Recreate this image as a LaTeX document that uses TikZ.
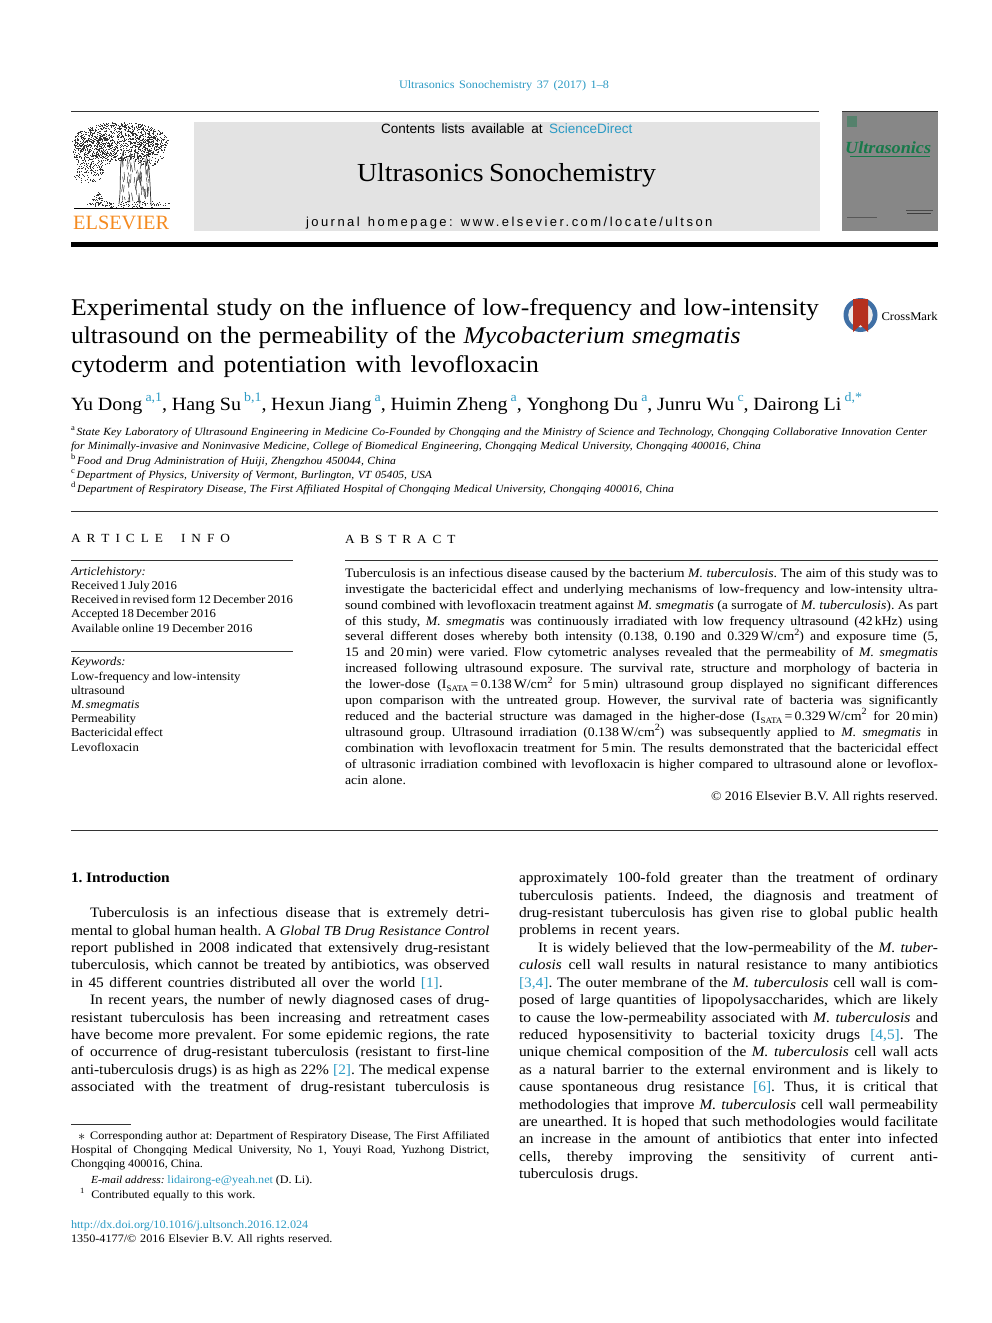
\documentclass[tikz,border=0pt]{standalone}
\usepackage{fontspec}
\setmainfont{Liberation Serif}[FakeStretch=1.07]
\newfontfamily\plainser{Liberation Serif}
\newfontfamily\heros{Liberation Sans}
\definecolor{linkc}{HTML}{2B9AC4}
\definecolor{boxg}{HTML}{E3E3E3}
\definecolor{cover}{HTML}{878787}
\definecolor{coverg}{HTML}{17794A}
\definecolor{orangee}{HTML}{F58A1F}
\definecolor{ink}{HTML}{333333}
\definecolor{cmblue}{HTML}{3F6FA5}
\definecolor{cmred}{HTML}{B5301F}
\newcommand\fbody{\fontsize{14.4}{17}\selectfont}
\newcommand\fabs{\fontsize{12.9}{15}\selectfont}
\newcommand\finfo{\fontsize{11.9}{14}\selectfont}
\newcommand\fsmall{\fontsize{10.9}{14}\selectfont}
\newcommand\ftitle{\fontsize{24}{28}\selectfont}
\newcommand\fauth{\fontsize{18.7}{23}\selectfont}
\newcommand\sups[1]{\raisebox{.42em}{\fontsize{9.5}{10}\selectfont #1}}
\newcommand\aff[1]{\raisebox{.42em}{\fontsize{8}{9}\selectfont\upshape #1}}
\newcommand\subs[1]{\raisebox{-.22em}{\fontsize{8.5}{9}\selectfont #1}}
\newcommand\authsup[1]{\,\raisebox{.45em}{\textcolor{linkc}{\fontsize{13}{14}\selectfont #1}}}
\newcommand\cit[1]{\textcolor{linkc}{#1}}
\newcount\tlcnt
% x, baseline y, width, text
\newcommand\TL[4]{\global\advance\tlcnt by 1
  \node[name=t\the\tlcnt,anchor=base west,inner sep=0pt,outer sep=0pt] at (#1,#2)
    {\hbox to #3pt{\frenchspacing\spaceskip=.17em plus 1fil minus .12em\relax #4}};}
\newcommand\speck[5]{\foreach \i in {1,...,#5}{%
  \pgfmathsetmacro\ang{360*rnd}\pgfmathsetmacro\rr{sqrt(rnd)}%
  \pgfmathsetmacro\px{#1+#3*\rr*cos(\ang)}\pgfmathsetmacro\py{#2+#4*\rr*sin(\ang)}%
  \fill[ink] (\px,\py) rectangle ++(0.75,0.75);}}
\begin{document}
\begin{tikzpicture}[x=1pt,y=-1pt,line cap=butt,
  rulet/.style={draw=ink,line width=0.8pt}]
\useasboundingbox (0,0) rectangle (992,1323);
\fill[white] (0,0) rectangle (992,1323);

% ---------- header
\begin{scope}[font=\fontsize{11.4}{13}\selectfont]
\TL{399}{88}{210}{\textcolor{linkc}{Ultrasonics Sonochemistry 37 (2017) 1--8}}
\end{scope}
\draw[rulet] (71,111.3) -- (819,111.3);
\fill[boxg] (194,122) rectangle (819.5,230.5);
\begin{scope}[font=\heros\fontsize{13.5}{15}\selectfont]
\TL{381}{133}{251.5}{Contents lists available at \textcolor{linkc}{ScienceDirect}}
\end{scope}
\begin{scope}[font=\fontsize{26}{30}\selectfont]
\TL{357}{181.5}{299}{Ultrasonics Sonochemistry}
\end{scope}
\begin{scope}[font=\heros\fontsize{13}{15}\selectfont\addfontfeature{LetterSpace=19}]
\TL{306}{226}{406.5}{journal homepage: www.elsevier.com/locate/ultson}
\end{scope}
\fill[black] (71,242) rectangle (938,247);

% ---------- Elsevier tree (drawn as stipple)
\begin{scope}
\pgfmathsetseed{4711}
\speck{120}{141}{48}{19}{1150}
\speck{94}{151}{22}{17}{300}
\speck{148}{150}{17}{16}{180}
\speck{88}{172}{16}{11}{110}
\speck{97}{198}{6}{6}{45}
\speck{128}{204}{42}{3.5}{120}
\foreach \i in {1,...,70}{%
  \pgfmathsetmacro\px{120+rnd*30}\pgfmathsetmacro\py{150+rnd*52}%
  \pgfmathsetmacro\dx{(rnd-.5)*3}\pgfmathsetmacro\dy{3+rnd*7}%
  \draw[ink,line width=.5pt] (\px,\py) -- ++(\dx,\dy);}
\draw[ink,line width=.7pt] (119,204) .. controls (122,180) and (118,165) .. (124,150);
\draw[ink,line width=.7pt] (151,205) .. controls (150,185) and (150,170) .. (146,155);
\draw[black,line width=1pt] (74,208) -- (170,208);
\end{scope}
\node[name=elsevier,anchor=base west,inner sep=0pt,text=orangee,font=\plainser\fontsize{20.3}{22}\selectfont] at (73,229) {ELSEVIER};

% ---------- cover
\fill[cover] (842,111) rectangle (938,230.5);
\draw[ink,line width=.5pt] (842,111) -- (938,111);
\fill[coverg!45!cover] (847,116) rectangle (857,127);
\node[name=covertitle,anchor=base west,inner sep=0pt,text=coverg,font=\bfseries\itshape\fontsize{17}{18}\selectfont] at (845,153) {\hbox to 88pt{\spaceskip0pt Ultrasonics\hss}};
\draw[coverg,line width=.8pt] (850,156.5) -- (930,156.5);
\fill[black!45!cover] (906,210) rectangle (933,210.8);
\fill[black!55!cover] (907,213) rectangle (931,214.2);
\fill[black!35!cover] (847,216.5) rectangle (877,217.3);

% ---------- CrossMark
\fill[cmblue] (860.5,315) circle (17);
\fill[white!92!black] (860.5,315) circle (12.3);
\fill[cmred] (853,299) -- (868,299) -- (868,332) -- (860.5,325) -- (853,332) -- cycle;
\begin{scope}[font=\fontsize{11.8}{15}\selectfont]
\TL{881.5}{320.5}{55.5}{CrossMark\hss}
\end{scope}

% ---------- title
\begin{scope}[font=\ftitle]
\TL{71}{315}{748}{Experimental study on the influence of low-frequency and low-intensity}
\TL{71}{343.5}{669.5}{ultrasound on the permeability of the \textit{Mycobacterium smegmatis}}
\TL{71}{372}{468}{cytoderm and potentiation with levofloxacin}
\end{scope}

% ---------- authors
\begin{scope}[font=\fauth]
\TL{71}{410}{791}{Yu Dong\authsup{a,1}, Hang Su\authsup{b,1}, Hexun Jiang\authsup{a}, Huimin Zheng\authsup{a}, Yonghong Du\authsup{a}, Junru Wu\authsup{c}, Dairong Li\authsup{d,*}}
\end{scope}

% ---------- affiliations
\begin{scope}[font=\fsmall\itshape]
\TL{71}{435}{856}{\aff{a}\,State Key Laboratory of Ultrasound Engineering in Medicine Co-Founded by Chongqing and the Ministry of Science and Technology, Chongqing Collaborative Innovation Center}
\TL{71}{449}{690}{for Minimally-invasive and Noninvasive Medicine, College of Biomedical Engineering, Chongqing Medical University, Chongqing 400016, China}
\TL{71}{464}{325}{\aff{b}\,Food and Drug Administration of Huiji, Zhengzhou 450044, China}
\TL{71}{478}{361}{\aff{c}\,Department of Physics, University of Vermont, Burlington, VT 05405, USA}
\TL{71}{492}{603}{\aff{d}\,Department of Respiratory Disease, The First Affiliated Hospital of Chongqing Medical University, Chongqing 400016, China}
\end{scope}
\draw[rulet] (71,511) -- (938,511);

% ---------- article info
\begin{scope}[font=\fontsize{12.4}{14}\selectfont]
\TL{71}{542.5}{159}{A R T I C L E\ \ \ I N F O}
\TL{345}{543.3}{110.5}{A B S T R A C T}
\end{scope}
\draw[rulet] (71,560) -- (293,560);
\draw[rulet] (345,560) -- (938,560);
\draw[rulet] (71,651) -- (293,651);
\begin{scope}[font=\finfo]
\TL{71}{575}{73}{\textit{Article history:}}
\TL{71}{589.2}{106}{Received 1 July 2016}
\TL{71}{603.5}{222}{Received in revised form 12 December 2016}
\TL{71}{617.7}{145}{Accepted 18 December 2016}
\TL{71}{632}{181.5}{Available online 19 December 2016}
\TL{71}{665.7}{51}{\textit{Keywords:}}
\TL{71}{680}{169.5}{Low-frequency and low-intensity}
\TL{71}{694.2}{55}{ultrasound}
\TL{71}{708.4}{68.5}{\textit{M. smegmatis}}
\TL{71}{722.6}{63.5}{Permeability}
\TL{71}{736.8}{92}{Bactericidal effect}
\TL{71}{751}{62.5}{Levofloxacin}
\end{scope}
% ---------- abstract
\begin{scope}[font=\fabs]
\TL{345}{577.3}{593}{Tuberculosis is an infectious disease caused by the bacterium \textit{M. tuberculosis}. The aim of this study was to}
\TL{345}{593.2}{593}{investigate the bactericidal effect and underlying mechanisms of low-frequency and low-intensity ultra-}
\TL{345}{609.1}{593}{sound combined with levofloxacin treatment against \textit{M. smegmatis} (a surrogate of \textit{M. tuberculosis}). As part}
\TL{345}{625}{593}{of this study, \textit{M. smegmatis} was continuously irradiated with low frequency ultrasound (42\,kHz) using}
\TL{345}{640.9}{593}{several different doses whereby both intensity (0.138, 0.190 and 0.329\,W/cm\sups{2}) and exposure time (5,}
\TL{345}{656.8}{593}{15 and 20\,min) were varied. Flow cytometric analyses revealed that the permeability of \textit{M. smegmatis}}
\TL{345}{672.7}{593}{increased following ultrasound exposure. The survival rate, structure and morphology of bacteria in}
\TL{345}{688.6}{593}{the lower-dose (I\subs{SATA}\,=\,0.138\,W/cm\sups{2} for 5\,min) ultrasound group displayed no significant differences}
\TL{345}{704.5}{593}{upon comparison with the untreated group. However, the survival rate of bacteria was significantly}
\TL{345}{720.4}{593}{reduced and the bacterial structure was damaged in the higher-dose (I\subs{SATA}\,=\,0.329\,W/cm\sups{2} for 20\,min)}
\TL{345}{736.3}{593}{ultrasound group. Ultrasound irradiation (0.138\,W/cm\sups{2}) was subsequently applied to \textit{M. smegmatis} in}
\TL{345}{752.2}{593}{combination with levofloxacin treatment for 5\,min. The results demonstrated that the bactericidal effect}
\TL{345}{768.1}{593}{of ultrasonic irradiation combined with levofloxacin is higher compared to ultrasound alone or levoflox-}
\TL{345}{784}{61}{acin alone.}
\TL{710}{800}{228}{\hfil\copyright\ 2016 Elsevier B.V. All rights reserved.}
\end{scope}
\draw[rulet] (71,830) -- (938,830);

% ---------- body, left
\begin{scope}[font=\fbody]
\TL{71}{882}{100}{\textbf{1. Introduction}\hss}
\TL{90}{917.3}{399.5}{Tuberculosis is an infectious disease that is extremely detri-}
\TL{71}{935}{418.5}{mental to global human health. A {\fontsize{13.6}{17}\selectfont\textit{Global TB Drug Resistance Control}}}
\TL{71}{952.2}{418.5}{report published in 2008 indicated that extensively drug-resistant}
\TL{71}{969.7}{418.5}{tuberculosis, which cannot be treated by antibiotics, was observed}
\TL{71}{987.1}{371.7}{in 45 different countries distributed all over the world \cit{[1]}.}
\TL{90}{1004.5}{399.5}{In recent years, the number of newly diagnosed cases of drug-}
\TL{71}{1022}{418.5}{resistant tuberculosis has been increasing and retreatment cases}
\TL{71}{1039.4}{418.5}{have become more prevalent. For some epidemic regions, the rate}
\TL{71}{1056.9}{418.5}{of occurrence of drug-resistant tuberculosis (resistant to first-line}
\TL{71}{1074.3}{418.5}{anti-tuberculosis drugs) is as high as 22\% \cit{[2]}. The medical expense}
\TL{71}{1091.8}{418.5}{associated with the treatment of drug-resistant tuberculosis is}
% right
\TL{519}{882.7}{419}{approximately 100-fold greater than the treatment of ordinary}
\TL{519}{900.1}{419}{tuberculosis patients. Indeed, the diagnosis and treatment of}
\TL{519}{917.5}{419}{drug-resistant tuberculosis has given rise to global public health}
\TL{519}{934.9}{161}{problems in recent years.}
\TL{538}{952.3}{400}{It is widely believed that the low-permeability of the \textit{M. tuber-}}
\TL{519}{969.8}{419}{\textit{culosis} cell wall results in natural resistance to many antibiotics}
\TL{519}{987.2}{419}{\cit{[3,4]}. The outer membrane of the \textit{M. tuberculosis} cell wall is com-}
\TL{519}{1004.6}{419}{posed of large quantities of lipopolysaccharides, which are likely}
\TL{519}{1022}{419}{to cause the low-permeability associated with \textit{M. tuberculosis} and}
\TL{519}{1039.4}{419}{reduced hyposensitivity to bacterial toxicity drugs \cit{[4,5]}. The}
\TL{519}{1056.9}{419}{unique chemical composition of the \textit{M. tuberculosis} cell wall acts}
\TL{519}{1074.3}{419}{as a natural barrier to the external environment and is likely to}
\TL{519}{1091.7}{419}{cause spontaneous drug resistance \cit{[6]}. Thus, it is critical that}
\TL{519}{1109.1}{419}{methodologies that improve \textit{M. tuberculosis} cell wall permeability}
\TL{519}{1126.5}{419}{are unearthed. It is hoped that such methodologies would facilitate}
\TL{519}{1143.9}{419}{an increase in the amount of antibiotics that enter into infected}
\TL{519}{1161.3}{419}{cells, thereby improving the sensitivity of current anti-}
\TL{519}{1178.5}{119.5}{tuberculosis drugs.}
\end{scope}

% ---------- footnotes
\draw[rulet] (71,1124.5) -- (131,1124.5);
\begin{scope}[font=\fontsize{11.4}{14}\selectfont]
\TL{78}{1139}{411.5}{\raisebox{-.1em}{\fontsize{15}{15}\selectfont$\ast$}\hspace{5pt}Corresponding author at: Department of Respiratory Disease, The First Affiliated}
\TL{71}{1153}{418.5}{Hospital of Chongqing Medical University, No 1, Youyi Road, Yuzhong District,}
\TL{71}{1167}{132}{Chongqing 400016, China.}
\TL{91}{1183}{221.5}{{\fontsize{10.8}{14}\selectfont\textit{E-mail address:}} \cit{lidairong-e@yeah.net} (D. Li).}
\TL{80}{1198}{175.5}{\aff{1}\hspace{7pt}Contributed equally to this work.}
\TL{71}{1228}{245.5}{\cit{http://dx.doi.org/10.1016/j.ultsonch.2016.12.024}}
\TL{71}{1242}{261.5}{1350-4177/\copyright\ 2016 Elsevier B.V. All rights reserved.}
\end{scope}
\end{tikzpicture}
\end{document}
